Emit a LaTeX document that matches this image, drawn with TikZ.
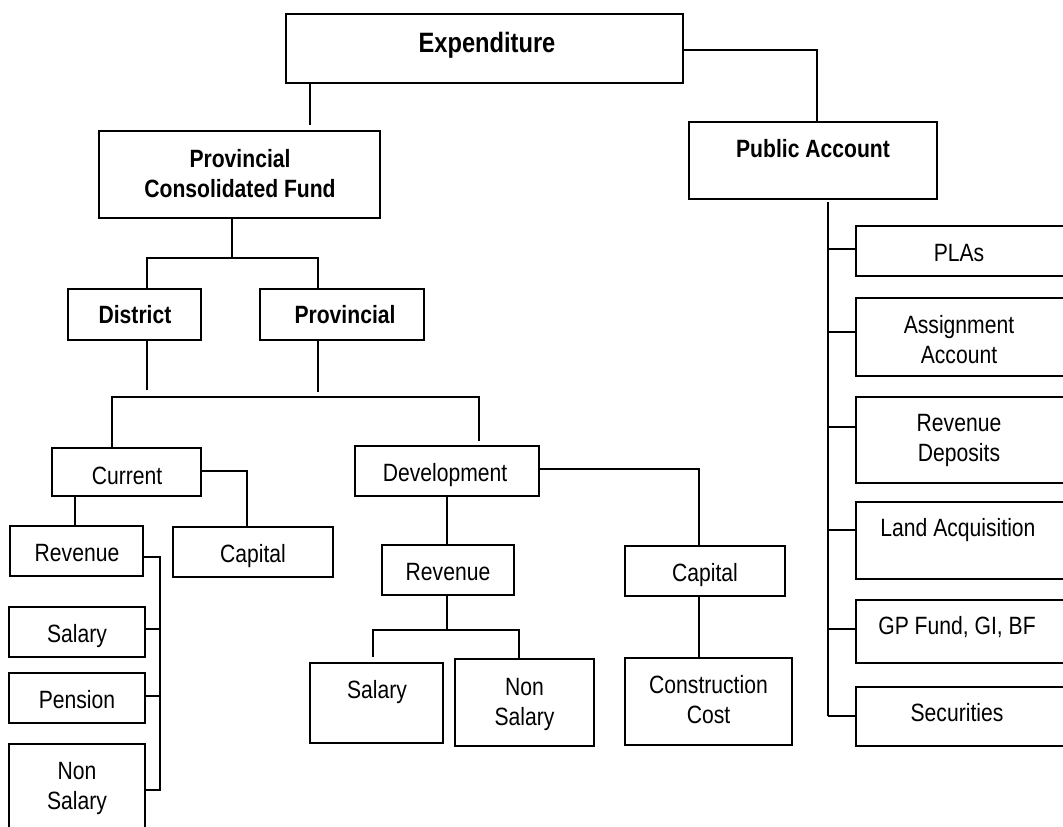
\documentclass[tikz,border=0pt]{standalone}
\usepackage{fontspec}
\setmainfont{Liberation Sans}[FakeStretch=0.845]
\begin{document}
\begin{tikzpicture}[x=1pt,y=-1pt,line width=1.8pt,
  box/.style={draw,inner sep=0pt,line width=1.8pt},
  lbl/.style={anchor=base,inner sep=0pt,align=center,font=\fontsize{25}{30}\selectfont},
  blbl/.style={lbl,font=\fontsize{25}{30}\selectfont\bfseries},
  conn/.style={line width=1.8pt}]
\useasboundingbox (0,0) rectangle (1063,827);
\fill[white] (0,0) rectangle (1063,827);
% boxes
\node[box,minimum width=397pt,minimum height=69pt] (exp) at (484.5,48.5) {};
\node[box,minimum width=281pt,minimum height=87pt] (pcf) at (239.5,174.5) {};
\node[box,minimum width=248pt,minimum height=77pt] (pa) at (813,160.5) {};
\node[box,minimum width=133pt,minimum height=51pt] (dist) at (134.5,314.5) {};
\node[box,minimum width=164pt,minimum height=51pt] (prov) at (342,314.5) {};
\node[box,minimum width=149pt,minimum height=48pt] (cur) at (126.5,472) {};
\node[box,minimum width=184pt,minimum height=50pt] (dev) at (447,471) {};
\node[box,minimum width=160pt,minimum height=50pt] (capL) at (253,552) {};
\node[box,minimum width=133pt,minimum height=50pt] (revL) at (76.5,551) {};
\node[box,minimum width=136pt,minimum height=50pt] (salL) at (77,632) {};
\node[box,minimum width=136pt,minimum height=50pt] (penL) at (77,698) {};
\node[box,minimum width=136pt,minimum height=101pt] (nsL) at (77,794.5) {};
\node[box,minimum width=132pt,minimum height=50pt] (revD) at (448,570) {};
\node[box,minimum width=133pt,minimum height=80pt] (salD) at (376.5,703) {};
\node[box,minimum width=139pt,minimum height=87pt] (nsD) at (524.5,702.5) {};
\node[box,minimum width=160pt,minimum height=50pt] (capD) at (705,571) {};
\node[box,minimum width=167pt,minimum height=87pt] (cc) at (708.5,701.5) {};
\node[box,minimum width=212pt,minimum height=50pt] (pla) at (962,251) {};
\node[box,minimum width=212pt,minimum height=78pt] (asg) at (962,337) {};
\node[box,minimum width=212pt,minimum height=86pt] (rd) at (962,440) {};
\node[box,minimum width=212pt,minimum height=77pt] (la) at (962,540.5) {};
\node[box,minimum width=212pt,minimum height=63pt] (gp) at (962,631.5) {};
\node[box,minimum width=212pt,minimum height=59pt] (sec) at (962,716.5) {};
% texts (two-line texts: base anchor is the baseline of the last line)
\node[blbl,font=\fontsize{28}{32}\selectfont\bfseries] (t-exp) at (487,52) {Expenditure};
\node[blbl] (t-pcf) at (240,197) {Provincial\\Consolidated Fund};
\node[blbl] (t-pa) at (813,157) {Public Account};
\node[blbl] (t-dist) at (135,323) {District};
\node[blbl] (t-prov) at (345,323) {Provincial};
\node[lbl] (t-cur) at (127,484) {Current};
\node[lbl] (t-dev) at (445,481) {Development};
\node[lbl] (t-capL) at (253,562) {Capital};
\node[lbl] (t-revL) at (77,561) {Revenue};
\node[lbl] (t-salL) at (77,642) {Salary};
\node[lbl] (t-penL) at (77,708) {Pension};
\node[lbl] (t-nsL) at (77,809) {Non\\Salary};
\node[lbl] (t-revD) at (448,580) {Revenue};
\node[lbl] (t-salD) at (377,698) {Salary};
\node[lbl] (t-nsD) at (524.5,725) {Non\\Salary};
\node[lbl] (t-capD) at (705,581) {Capital};
\node[lbl] (t-cc) at (708.5,723) {Construction\\Cost};
\node[lbl] (t-pla) at (959,261) {PLAs};
\node[lbl] (t-asg) at (959,363) {Assignment\\Account};
\node[lbl] (t-rd) at (959,461) {Revenue\\Deposits};
\node[lbl] (t-la) at (958,536) {Land Acquisition};
\node[lbl] (t-gp) at (957,634) {GP Fund, GI, BF};
\node[lbl] (t-sec) at (957,721) {Securities};
% connector coordinates
\coordinate (e1) at (310,125);
\coordinate (e2) at (817,50);
\coordinate (p1) at (232,258);
\coordinate (b1) at (147,258);
\coordinate (b2) at (318,258);
\coordinate (d1) at (147,390);
\coordinate (d2) at (318,392);
\coordinate (h1) at (112,397);
\coordinate (h2) at (479,397);
\coordinate (h3) at (479,441);
\coordinate (c1) at (247,471);
\coordinate (c2) at (75,0);
\coordinate (r1) at (160,557);
\coordinate (r2) at (160,790);
\coordinate (rs) at (160,629);
\coordinate (rp) at (160,696);
\coordinate (s1) at (373,630);
\coordinate (s2) at (519,630);
\coordinate (s3) at (373,657);
\coordinate (s4) at (447,0);
\coordinate (v1) at (699,469);
\coordinate (t1) at (828,202);
\coordinate (t2) at (828,716);
\coordinate (q1) at (828,249);
\coordinate (q2) at (828,332);
\coordinate (q3) at (828,427);
\coordinate (q4) at (828,530);
\coordinate (q5) at (828,629);
% connectors
\draw[conn] (exp.south -| e1) -- (e1);
\draw[conn] (exp.east |- e2) -- (e2) -- (pa.north -| e2);
\draw[conn] (pcf.south -| p1) -- (p1);
\draw[conn] (dist.north -| b1) -- (b1) -- (b2) -- (prov.north -| b2);
\draw[conn] (dist.south -| d1) -- (d1);
\draw[conn] (prov.south -| d2) -- (d2);
\draw[conn] (cur.north -| h1) -- (h1) -- (h2) -- (h3);
\draw[conn] (cur.east |- c1) -- (c1) -- (capL.north -| c1);
\draw[conn] (cur.south -| c2) -- (revL.north -| c2);
\draw[conn] (revL.east |- r1) -- (r1) -- (r2) -- (nsL.east |- r2);
\draw[conn] (salL.east |- rs) -- (rs);
\draw[conn] (penL.east |- rp) -- (rp);
\draw[conn] (dev.south -| s4) -- (revD.north -| s4);
\draw[conn] (revD.south -| s4) -- (s4 |- s1);
\draw[conn] (s3) -- (s1) -- (s2) -- (nsD.north -| s2);
\draw[conn] (dev.east |- v1) -- (v1) -- (capD.north -| v1);
\draw[conn] (capD.south -| v1) -- (cc.north -| v1);
\draw[conn] (t1) -- (t2);
\draw[conn] (q1) -- (pla.west |- q1);
\draw[conn] (q2) -- (asg.west |- q2);
\draw[conn] (q3) -- (rd.west |- q3);
\draw[conn] (q4) -- (la.west |- q4);
\draw[conn] (q5) -- (gp.west |- q5);
\draw[conn] (t2) -- (sec.west |- t2);
\end{tikzpicture}
\end{document}
